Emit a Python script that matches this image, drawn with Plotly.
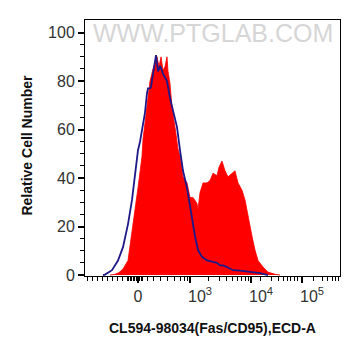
import plotly.graph_objects as go

# ---- data (x in display channel units of the biexponential axis, 0-255) ----
stained_x = [25, 30, 34, 38, 43, 47, 50, 53, 57, 58, 62, 65, 68, 70, 72, 74, 76, 78, 80, 82,
             83, 85, 87, 90, 93, 95, 98, 102, 105, 108, 112, 113, 115, 118, 122, 125, 128, 132,
             134, 137, 140, 143, 147, 150, 153, 157, 160, 163, 167, 170, 173, 178, 183, 190, 195]
stained_y = [0, 0.3, 1, 2.5, 6, 17, 27, 36, 49, 56, 69, 80, 85, 88, 90, 86, 90, 84.5, 86, 90,
             84, 79, 69, 61, 52, 49, 40.5, 38, 32, 32, 29.5, 27, 34, 38, 38, 39, 42, 41,
             44.5, 47, 43, 40.5, 42, 43, 38, 35, 31, 24, 16, 10.3, 6, 3.3, 1.2, 0.3, 0]

control_x = [18, 20, 27, 33, 38, 43, 47, 50, 53, 55, 58, 60, 62, 63, 65, 66, 68, 70, 71, 73,
             75, 76, 78, 80, 82, 85, 88, 92, 95, 98, 102, 105, 107, 110, 113, 117, 122, 127,
             132, 135, 138, 141, 143, 148, 155, 162, 168, 175, 183]
control_y = [0, 0.2, 2, 6, 11.5, 21, 31, 40.5, 51.5, 55, 62, 67, 75, 77, 77, 77.5, 83, 88, 90.7, 84,
             86, 85.5, 83, 81.5, 80, 73, 68, 61, 51.5, 43, 36, 28, 24, 16, 10.3, 7.5, 6, 5.4,
             5, 4, 4, 3.5, 3, 2, 1.8, 1.5, 1, 0.8, 0]

x_major_ticks = [53, 105, 166, 217]
x_tick_labels = ["0", "10<sup>3</sup>", "10<sup>4</sup>", "10<sup>5</sup>"]
x_minor_ticks = ([2, 7, 12, 17, 22, 27, 32, 37, 42, 43.5, 45, 46.5, 48, 49.5, 51, 54.5, 56, 57.5]
                 + [62, 68, 75, 82, 89, 95, 99, 102]
                 + [123.4, 134.1, 141.7, 147.6, 152.5, 156.6, 160.1, 163.2]
                 + [175, 186.7, 193.3, 198.3, 202.3, 205.7, 209, 212.3]
                 + [228, 237, 242, 247, 250, 253])
label_shift = [0, 10, 10, 10]

y_major_ticks = [0, 20, 40, 60, 80, 100]
y_minor_ticks = [v for v in range(5, 105, 5) if v % 20 != 0]

x_title = "CL594-98034(Fas/CD95),ECD-A"
y_title = "Relative Cell Number"
watermark = "WWW.PTGLAB.COM"

FONT = "Liberation Sans, Arial, sans-serif"

fig = go.Figure()
fig.add_trace(go.Scatter(x=stained_x, y=stained_y, mode="lines", fill="tozeroy",
                         fillcolor="#ff0000", line=dict(color="#ff0000", width=0.8),
                         showlegend=False, hoverinfo="skip"))
fig.add_trace(go.Scatter(x=control_x, y=control_y, mode="lines",
                         line=dict(color="#1e1888", width=1.8),
                         showlegend=False, hoverinfo="skip"))
fig.add_trace(go.Scatter(x=[0, 255], y=[None, None], xaxis="x2", mode="lines",
                         showlegend=False, hoverinfo="skip"))

# the page body adds an 8px margin, so the figure is sized to the window minus that
fig.update_layout(
    width=345, height=340,
    margin=dict(l=77, r=13, t=12, b=72, autoexpand=False),
    paper_bgcolor="white", plot_bgcolor="white",
    font=dict(family=FONT, color="#333333"),
    xaxis=dict(range=[0, 255], showgrid=False, zeroline=False, automargin=False,
               showline=True, linecolor="black", linewidth=1, mirror=True,
               tickmode="array", tickvals=x_major_ticks, showticklabels=False,
               ticks="outside", ticklen=6, tickwidth=2, tickcolor="black",
               minor=dict(tickmode="array", tickvals=x_minor_ticks, ticks="outside",
                          ticklen=4, tickwidth=1, tickcolor="black")),
    xaxis2=dict(range=[0, 255], overlaying="x", anchor="y", side="bottom",
                showgrid=False, zeroline=False, showline=False, automargin=False,
                tickmode="array",
                tickvals=[t + s for t, s in zip(x_major_ticks, label_shift)],
                ticktext=x_tick_labels, ticks="", ticklabelstandoff=9,
                tickfont=dict(size=16, color="#333333", family=FONT)),
    yaxis=dict(range=[-0.4, 105.2], showgrid=False, zeroline=False, automargin=False,
               showline=True, linecolor="black", linewidth=1, mirror=True,
               tickmode="array", tickvals=y_major_ticks,
               ticks="outside", ticklen=6, tickwidth=2, tickcolor="black",
               tickfont=dict(size=16, color="#333333", family=FONT),
               minor=dict(tickmode="array", tickvals=y_minor_ticks, ticks="outside",
                          ticklen=4, tickwidth=1, tickcolor="black")),
    annotations=[
        dict(text=watermark, xref="paper", yref="paper", x=0.5, y=0.95,
             xanchor="center", yanchor="middle", showarrow=False,
             font=dict(size=25, color="#d6d6d6", family=FONT)),
        dict(text="<b>" + y_title + "</b>", xref="paper", yref="paper",
             x=-0.227, y=0.51, xanchor="center", yanchor="middle", textangle=-90,
             showarrow=False, font=dict(size=14, color="#111111", family=FONT)),
        dict(text="<b>" + x_title + "</b>", xref="paper", yref="paper",
             x=0.5, y=-0.203, xanchor="center", yanchor="middle",
             showarrow=False, font=dict(size=14, color="#111111", family=FONT)),
    ],
)

fig.write_html("out.html")
